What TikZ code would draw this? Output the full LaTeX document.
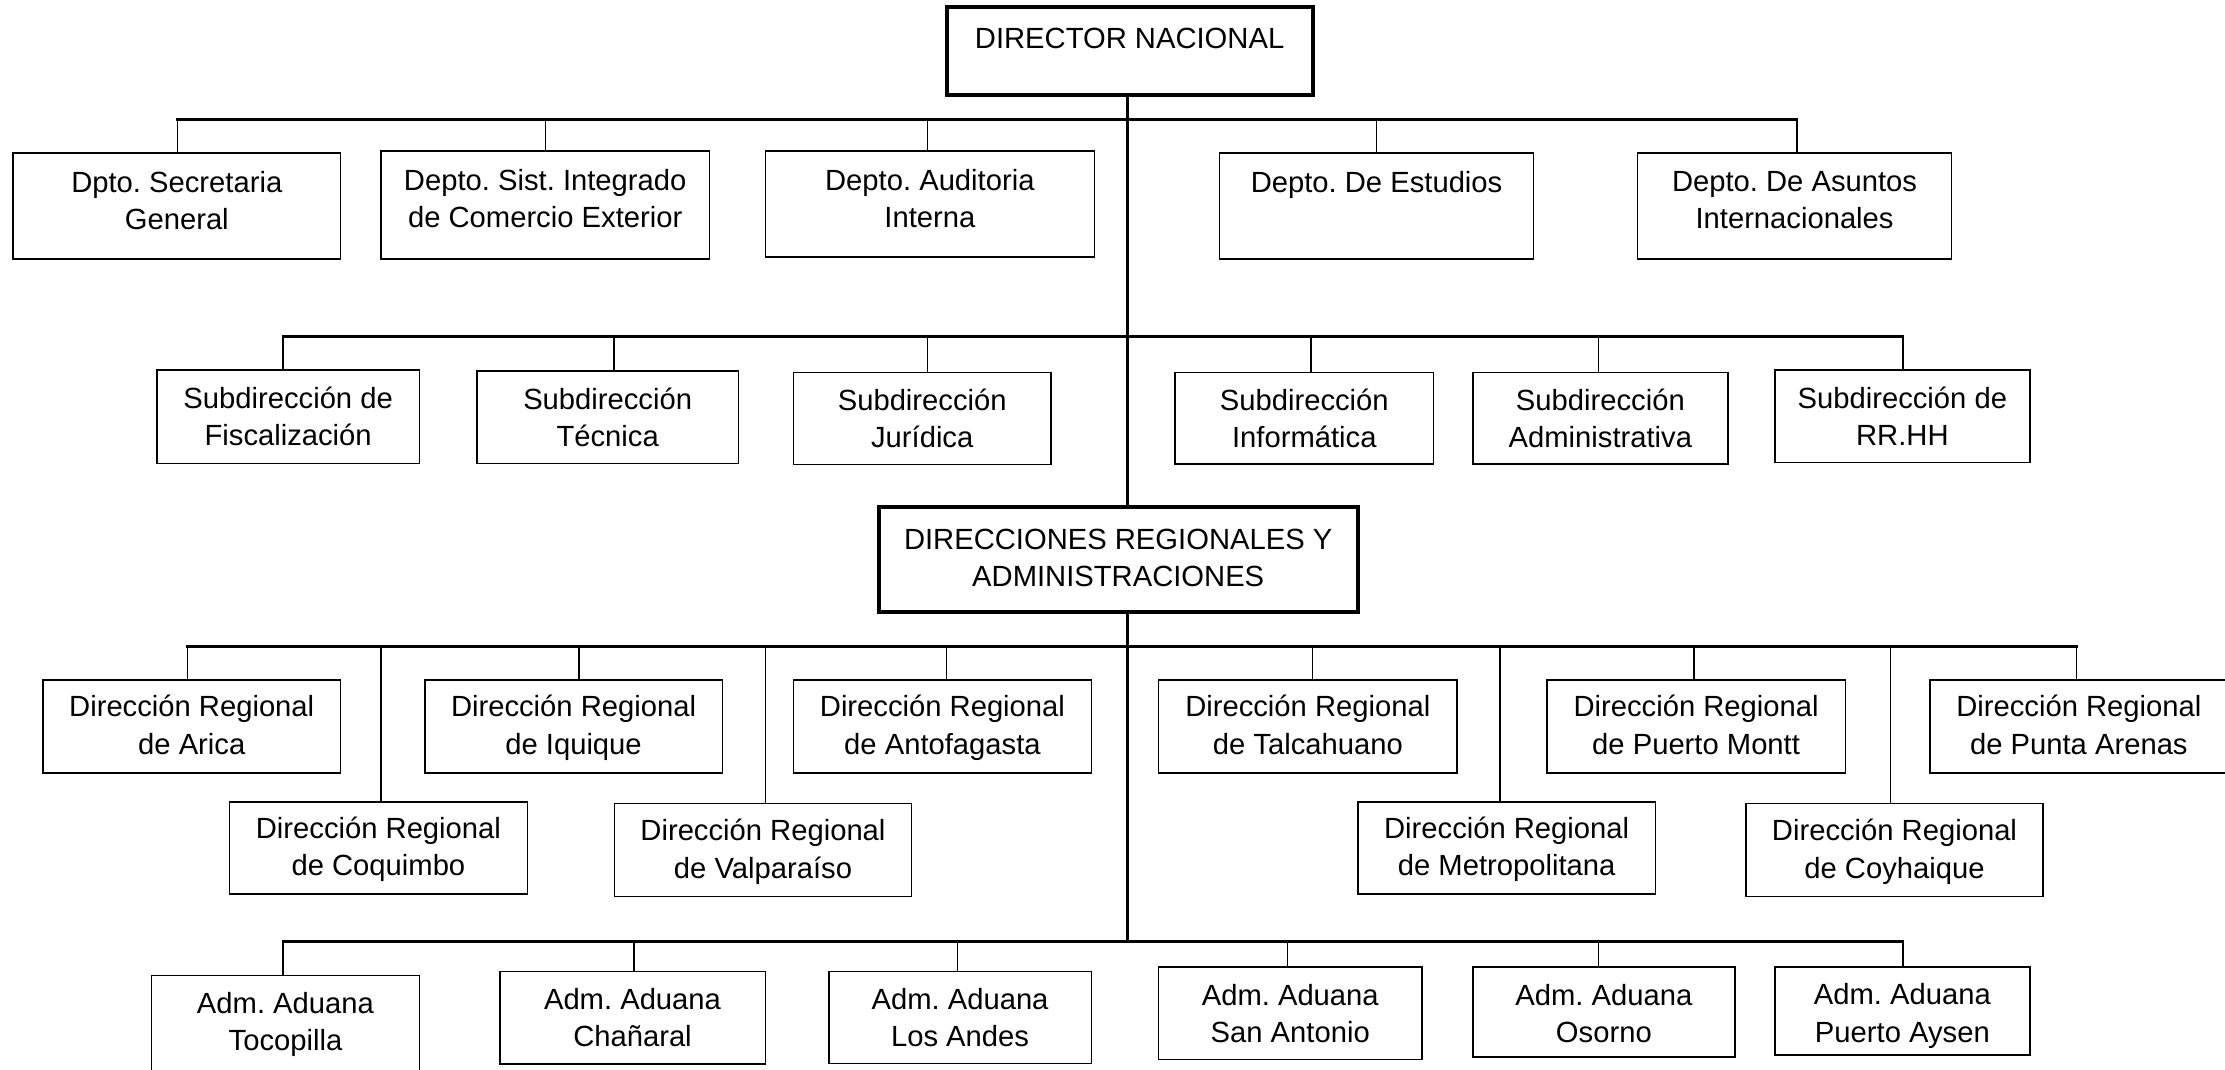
\documentclass[tikz,border=0pt]{standalone}
\usepackage{fontspec}
\setmainfont{Liberation Sans}
\frenchspacing

% box with its caption hanging from the top edge:
% #1 style, #2 name, #3 left, #4 top, #5 right, #6 bottom, #7 caption drop, #8 caption
\newcommand{\orgbox}[8]{%
  \node[#1, anchor=north west, minimum width={(#5-#3)*1pt}, minimum height={(#6-#4)*1pt}] (#2) at (#3,#4) {};
  \node[caption, anchor=north] (#2-text) at ([yshift=-#7pt]#2.north) {#8};}

% vertical feed from a bus into the top of a box: #1 box, #2 x offset, #3 bus
\newcommand{\feed}[3]{%
  \path ([xshift=#2pt]#1.north) coordinate (#1-in);
  \draw[drop] (#1-in |- #3) -- (#1-in);}

\begin{document}
\begin{tikzpicture}[x=1pt, y=-1pt,
  unit/.style={draw=black, fill=white, line width=1.6pt, inner sep=0pt, outer sep=0pt},
  head/.style={unit, line width=4pt},
  caption/.style={font=\fontsize{29.2}{37.5}\selectfont, align=center, inner sep=0pt, outer sep=0pt},
  busline/.style={line width=3pt, line cap=rect},
  drop/.style={line width=1.6pt},
  trunkline/.style={line width=3.6pt}]

\useasboundingbox (0,0) rectangle (2225,1069);
\fill[white] (0,0) rectangle (2225,1069);
\clip (0,0) rectangle (2225,1069);

% top of the hierarchy
\orgbox{head}{dir}{946.7}{6.7}{1312.5}{95}{21}{DIRECTOR NACIONAL}

% departments
\orgbox{unit}{d1}{13}{152.7}{340.6}{258.7}{18.5}{Dpto. Secretaria\\General}
\orgbox{unit}{d2}{381}{150.7}{709.4}{258.7}{18.5}{Depto. Sist. Integrado\\de Comercio Exterior}
\orgbox{unit}{d3}{765.3}{150.7}{1094.4}{256.7}{18.5}{Depto. Auditoria\\Interna}
\orgbox{unit}{d4}{1219.5}{152.7}{1533.6}{258.7}{18.5}{Depto. De Estudios}
\orgbox{unit}{d5}{1637.5}{152.7}{1951.6}{258.7}{18.5}{Depto. De Asuntos\\Internacionales}

% sub-directorates
\orgbox{unit}{s1}{156.9}{370}{419.4}{463.3}{16.5}{Subdirección de\\Fiscalización}
\orgbox{unit}{s2}{476.8}{371}{738.5}{463.3}{16.5}{Subdirección\\Técnica}
\orgbox{unit}{s3}{793.6}{372.3}{1050.8}{464.3}{16.5}{Subdirección\\Jurídica}
\orgbox{unit}{s4}{1175}{372.3}{1433.6}{464}{16.5}{Subdirección\\Informática}
\orgbox{unit}{s5}{1472.7}{372.3}{1728}{464}{16.5}{Subdirección\\Administrativa}
\orgbox{unit}{s6}{1775}{370}{2029.7}{462.3}{16.5}{Subdirección de\\RR.HH}

% regional level
\orgbox{head}{reg}{878.6}{507.3}{1357.8}{611.6}{21.5}{DIRECCIONES REGIONALES Y\\ADMINISTRACIONES}

\orgbox{unit}{r1}{42.9}{680}{340.6}{772.7}{15}{Dirección Regional\\de Arica}
\orgbox{unit}{r2}{229.6}{801.7}{527.3}{894}{15}{Dirección Regional\\de Coquimbo}
\orgbox{unit}{r3}{424.7}{680}{722.4}{772.7}{15}{Dirección Regional\\de Iquique}
\orgbox{unit}{r4}{614.5}{803.3}{911.5}{896.3}{16}{Dirección Regional\\de Valparaíso}
\orgbox{unit}{r5}{793.6}{680}{1091.3}{772.7}{15}{Dirección Regional\\de Antofagasta}
\orgbox{unit}{r6}{1158.6}{680}{1457}{772.7}{15}{Dirección Regional\\de Talcahuano}
\orgbox{unit}{r7}{1357.8}{801.7}{1655.5}{894}{15}{Dirección Regional\\de Metropolitana}
\orgbox{unit}{r8}{1546.9}{680}{1845.3}{772.7}{15}{Dirección Regional\\de Puerto Montt}
\orgbox{unit}{r9}{1746}{803.3}{2043}{896.3}{16}{Dirección Regional\\de Coyhaique}
\orgbox{unit}{r10}{1929.7}{680}{2228}{772.7}{15}{Dirección Regional\\de Punta Arenas}

% customs administrations
\orgbox{unit}{a1}{151.5}{975.3}{419.4}{1080}{17}{Adm. Aduana\\Tocopilla}
\orgbox{unit}{a2}{499.7}{971.3}{765.3}{1064}{17}{Adm. Aduana\\Chañaral}
\orgbox{unit}{a3}{828.8}{971.3}{1091.3}{1063.3}{17}{Adm. Aduana\\Los Andes}
\orgbox{unit}{a4}{1158.6}{967}{1421.9}{1059.3}{17}{Adm. Aduana\\San Antonio}
\orgbox{unit}{a5}{1472.7}{967}{1735}{1056.7}{17}{Adm. Aduana\\Osorno}
\orgbox{unit}{a6}{1775}{966.7}{2029.7}{1055}{17}{Adm. Aduana\\Puerto Aysen}

% bus levels and the main trunk
\coordinate (bus1) at (0,119.3);
\coordinate (bus2) at (0,336);
\coordinate (bus3) at (0,646);
\coordinate (bus4) at (0,941.7);
\coordinate (trunk) at (1127.5,0);

\draw[trunkline] (dir.south -| trunk) -- (reg.north -| trunk);
\draw[trunkline] (reg.south -| trunk) -- (trunk |- bus4);

% feeds
\feed{d1}{0.7}{bus1} \feed{d2}{0.4}{bus1} \feed{d3}{-2.4}{bus1}
\feed{d4}{0}{bus1} \feed{d5}{2.4}{bus1}

\feed{s1}{-5}{bus2} \feed{s2}{6.1}{bus2} \feed{s3}{5.3}{bus2}
\feed{s4}{6.7}{bus2} \feed{s5}{-2}{bus2} \feed{s6}{0.6}{bus2}

\feed{r1}{-4.3}{bus3} \feed{r2}{2.6}{bus3} \feed{r3}{5.7}{bus3}
\feed{r4}{2.3}{bus3} \feed{r5}{4.2}{bus3} \feed{r6}{4.7}{bus3}
\feed{r7}{-6.7}{bus3} \feed{r8}{-2.4}{bus3} \feed{r9}{-3.9}{bus3}
\feed{r10}{-2.3}{bus3}

\feed{a1}{-2.3}{bus4} \feed{a2}{1.2}{bus4} \feed{a3}{-2.6}{bus4}
\feed{a4}{-2.8}{bus4} \feed{a5}{-5.5}{bus4} \feed{a6}{0.6}{bus4}

% horizontal buses
\draw[busline] (d1-in |- bus1) -- (d5-in |- bus1);
\draw[busline] (s1-in |- bus2) -- (s6-in |- bus2);
\draw[busline] (r1-in |- bus3) -- (r10-in |- bus3);
\draw[busline] (a1-in |- bus4) -- (a6-in |- bus4);

\end{tikzpicture}
\end{document}
